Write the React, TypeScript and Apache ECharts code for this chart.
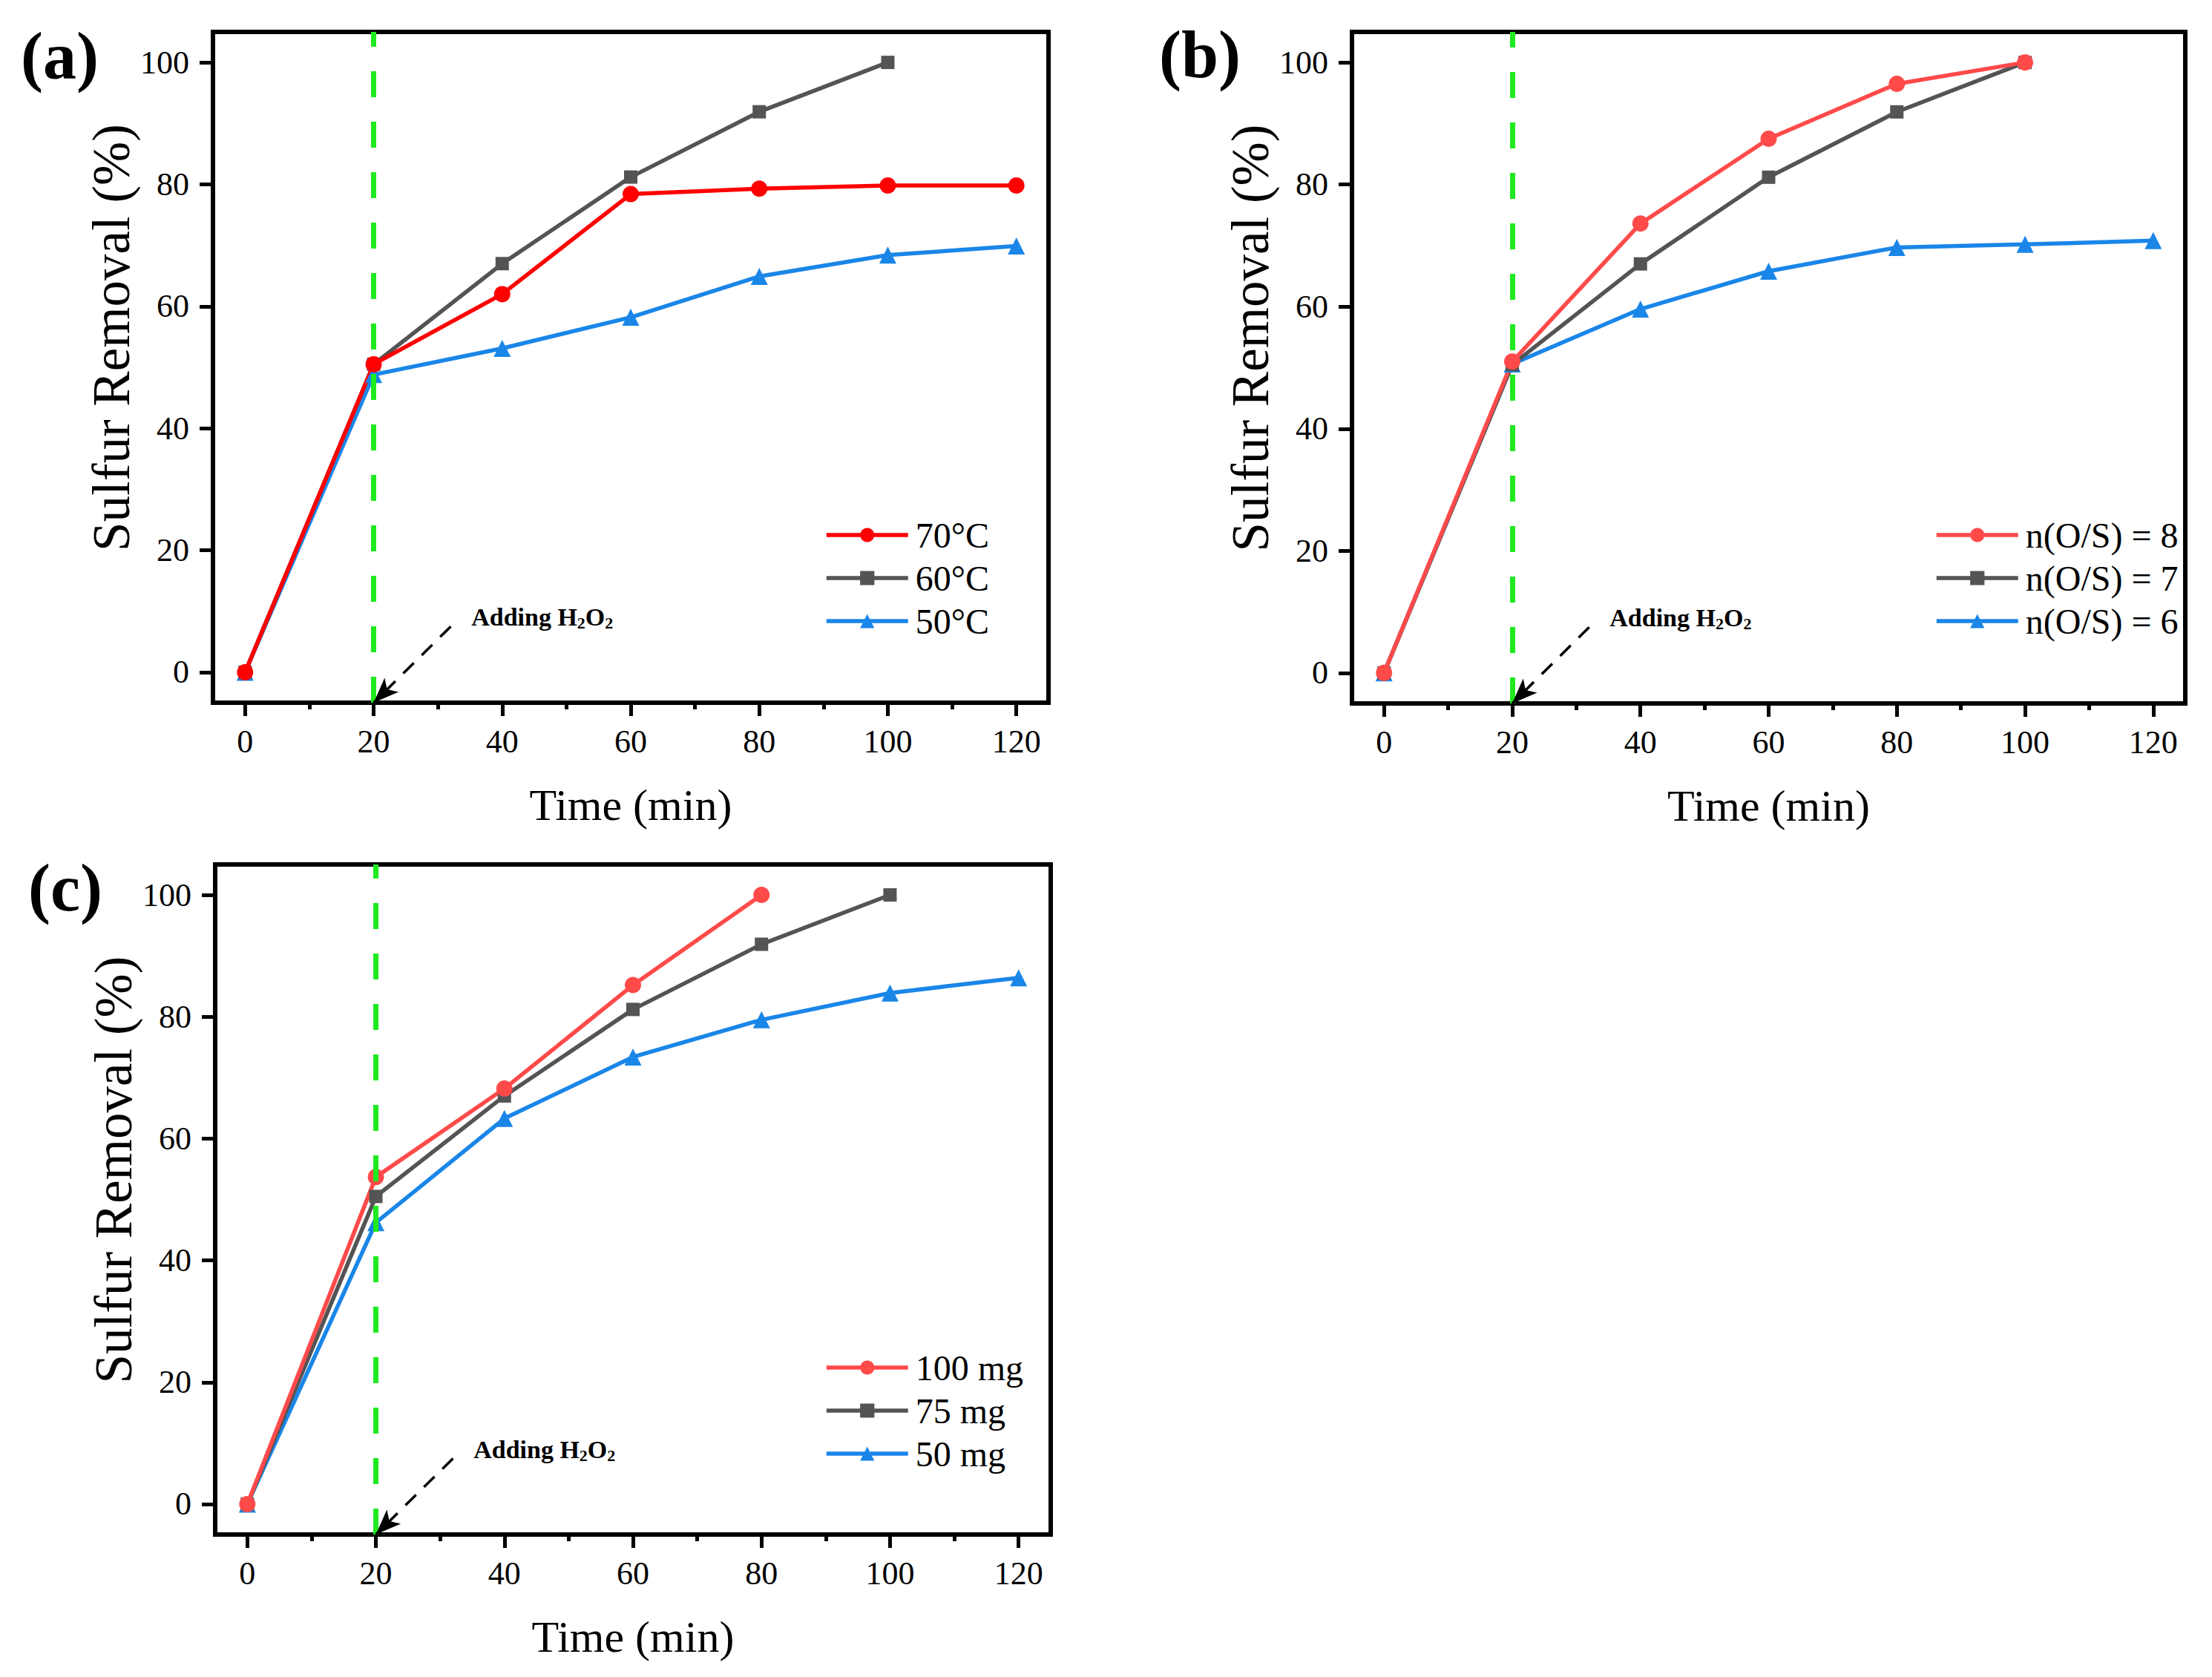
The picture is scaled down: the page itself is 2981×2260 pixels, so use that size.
import React, { useEffect, useRef } from "react";
import * as echarts from "echarts";

// ---------- data ----------
const TIME = [0, 20, 40, 60, 80, 100, 120];
const X_TICKS = [0, 20, 40, 60, 80, 100, 120];
const X_MINOR = [10, 30, 50, 70, 90, 110];
const Y_TICKS = [0, 20, 40, 60, 80, 100];

const A_NAMES = ["70°C", "60°C", "50°C"];
const A_70 = [0, 50.5, 62, 78.4, 79.3, 79.8, 79.8];
const A_60 = [0, 50.5, 67, 81.2, 91.9, 100];
const A_50 = [0, 48.8, 53.1, 58.2, 64.9, 68.4, 69.9];

const B_NAMES = ["n(O/S) = 8", "n(O/S) = 7", "n(O/S) = 6"];
const B_8 = [0, 51, 73.6, 87.5, 96.5, 100];
const B_7 = [0, 50.5, 67, 81.2, 91.9, 100];
const B_6 = [0, 50.6, 59.6, 65.8, 69.7, 70.2, 70.8];

const C_NAMES = ["100 mg", "75 mg", "50 mg"];
const C_100 = [0, 53.7, 68.2, 85.2, 100];
const C_75 = [0, 50.5, 67, 81.2, 91.9, 100];
const C_50 = [0, 46.2, 63.3, 73.4, 79.5, 83.9, 86.4];

const PANEL_LABELS = ["(a)", "(b)", "(c)"];
const H2O2_TIME = 20;
const ARROW_FROM = [32, 7.5];
const ARROW_TO = [20, -5];
const NOTE_AT = [35.2, 9];

// ---------- style ----------
const FONT = "'Liberation Serif', 'Times New Roman', serif";
const GRAY = "#545454";
const BLUE = "#1A86E8";
const RED_A = "#FF0000";
const RED_BC = "#FF4A4A";

const pairs = (vals: number[]) => vals.map((v, i) => [TIME[i], v]);

type Panel = {
  grid: { left: number; top: number; width: number; height: number };
  legend: { left: number; top: number };
  label: { x: number; y: number };
  names: string[];
  values: number[][]; // red, gray, blue
  red: string;
};

const PANELS: Panel[] = [
  {
    grid: { left: 287, top: 43, width: 1126, height: 904 },
    legend: { left: 1106, top: 692 },
    label: { x: 28, y: 80 },
    names: A_NAMES,
    values: [A_70, A_60, A_50],
    red: RED_A,
  },
  {
    grid: { left: 1822, top: 43, width: 1123, height: 905 },
    legend: { left: 2602, top: 692 },
    label: { x: 1562, y: 78 },
    names: B_NAMES,
    values: [B_8, B_7, B_6],
    red: RED_BC,
  },
  {
    grid: { left: 290, top: 1165, width: 1126, height: 903 },
    legend: { left: 1106, top: 1814 },
    label: { x: 38, y: 1201 },
    names: C_NAMES,
    values: [C_100, C_75, C_50],
    red: RED_BC,
  },
];

function buildOption() {
  const grid: any[] = [];
  const xAxis: any[] = [];
  const yAxis: any[] = [];
  const series: any[] = [];
  const legend: any[] = [];
  const graphic: any[] = [];

  PANELS.forEach((p, i) => {
    grid.push({
      ...p.grid,
      show: true,
      borderColor: "#000",
      borderWidth: 6,
      backgroundColor: "transparent",
    });
    xAxis.push({
      type: "value",
      gridIndex: i,
      position: "bottom",
      min: -5,
      max: 125,
      axisLine: { show: false, onZero: false },
      splitLine: { show: false },
      axisTick: {
        show: true,
        customValues: X_TICKS,
        length: 18,
        lineStyle: { color: "#000", width: 5 },
      },
      axisLabel: {
        customValues: X_TICKS,
        margin: 30,
        fontSize: 44,
        color: "#000",
        fontFamily: FONT,
      },
      name: "Time (min)",
      nameLocation: "middle",
      nameGap: 108,
      nameTextStyle: { fontSize: 60, color: "#000", fontFamily: FONT },
    });
    xAxis.push({
      type: "value",
      gridIndex: i,
      position: "bottom",
      min: -5,
      max: 125,
      axisLine: { show: false, onZero: false },
      splitLine: { show: false },
      axisLabel: { show: false },
      axisTick: {
        show: true,
        customValues: X_MINOR,
        length: 9,
        lineStyle: { color: "#000", width: 5 },
      },
    });
    yAxis.push({
      type: "value",
      gridIndex: i,
      min: -5,
      max: 105,
      axisLine: { show: false, onZero: false },
      splitLine: { show: false },
      axisTick: {
        show: true,
        customValues: Y_TICKS,
        length: 18,
        lineStyle: { color: "#000", width: 5 },
      },
      axisLabel: {
        customValues: Y_TICKS,
        margin: 32,
        fontSize: 44,
        color: "#000",
        fontFamily: FONT,
      },
      name: "Sulfur Removal (%)",
      nameLocation: "middle",
      nameGap: 100,
      nameTextStyle: {
        fontSize: 71,
        color: "#000",
        fontFamily: FONT,
        padding: [0, 0, 0, 80],
      },
    });

    const colors = [p.red, GRAY, BLUE];
    const symbols = ["circle", "rect", "triangle"];
    const sizes = [22, 18, 23];
    // draw blue first, red last
    [2, 1, 0].forEach((k) => {
      const s: any = {
        type: "line",
        name: p.names[k],
        xAxisIndex: i * 2,
        yAxisIndex: i,
        data: pairs(p.values[k]),
        symbol: symbols[k],
        symbolSize: sizes[k],
        showSymbol: true,
        lineStyle: { color: colors[k], width: 5.5 },
        itemStyle: { color: colors[k] },
        emphasis: { disabled: true },
        silent: true,
        z: 3,
      };
      if (k === 2) {
        s.markLine = {
          silent: true,
          symbol: ["none", "none"],
          label: { show: false },
          emphasis: { disabled: true },
          data: [
            {
              xAxis: H2O2_TIME,
              lineStyle: { color: "#1FEA1F", type: [35, 33], width: 7 },
            },
            [
              {
                coord: ARROW_FROM,
                symbol: "none",
                lineStyle: { color: "#000", type: [20, 15], width: 3.5 },
              },
              {
                coord: ARROW_TO,
                symbol: "arrow",
                symbolSize: [20, 34],
              },
            ],
          ],
        };
        s.markPoint = {
          silent: true,
          symbol: "circle",
          symbolSize: 0,
          data: [
            {
              coord: NOTE_AT,
              label: {
                show: true,
                position: "right",
                distance: 0,
                formatter: "{b|Adding H}{s|2}{b|O}{s|2}",
                rich: {
                  b: {
                    fontSize: 34,
                    fontWeight: "bold",
                    fontFamily: FONT,
                    color: "#000",
                  },
                  s: {
                    fontSize: 22,
                    fontWeight: "bold",
                    fontFamily: FONT,
                    color: "#000",
                    padding: [16, 0, 0, 0],
                  },
                },
              },
            },
          ],
        };
      }
      series.push(s);
    });

    legend.push({
      orient: "vertical",
      left: p.legend.left,
      top: p.legend.top,
      itemWidth: 110,
      itemHeight: 24,
      itemGap: 10,
      selectedMode: false,
      data: p.names,
      lineStyle: { width: 5.5 },
      textStyle: {
        fontSize: 48,
        color: "#000",
        fontFamily: FONT,
        padding: [0, 0, 0, 5],
      },
    });

    graphic.push({
      type: "text",
      left: p.label.x,
      top: p.label.y - 50,
      style: {
        text: PANEL_LABELS[i],
        fontSize: 90,
        fontWeight: "bold",
        fontFamily: FONT,
        fill: "#000",
      },
    });
  });

  return {
    animation: false,
    backgroundColor: "#fff",
    grid,
    xAxis,
    yAxis,
    series,
    legend,
    graphic,
  };
}

export default function App() {
  const ref = useRef<HTMLDivElement>(null);
  useEffect(() => {
    if (!ref.current) return;
    const chart = echarts.init(ref.current, undefined, { renderer: "svg" });
    chart.setOption(buildOption() as any);
    return () => chart.dispose();
  }, []);
  return (
    <div
      ref={ref}
      style={{
        position: "absolute",
        left: 0,
        top: 0,
        width: "2981px",
        height: "2260px",
        background: "#fff",
      }}
    />
  );
}
